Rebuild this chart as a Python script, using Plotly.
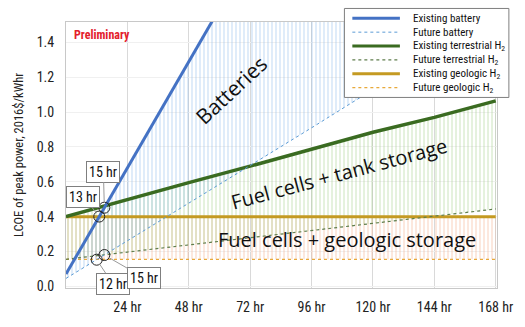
import numpy as np
import plotly.graph_objects as go

# Storage duration (hours) at which each cost curve is sampled
hours = [0, 24, 48, 72, 96, 120, 144, 168]
hours_batt = [0, 24, 48, 72]

# Levelized cost of peak power, 2016$/kWhr
existing_battery = [0.07, 0.68, 1.29, 1.90]
future_battery = [0.045, 0.26, 0.48, 0.69, 0.91, 1.13, 1.34, 1.56]
existing_terrestrial = [0.40, 0.50, 0.595, 0.69, 0.79, 0.885, 0.97, 1.065]
future_terrestrial = [0.155, 0.196, 0.238, 0.279, 0.32, 0.361, 0.403, 0.444]
existing_geologic = [0.40, 0.40, 0.40, 0.40, 0.40, 0.40, 0.40, 0.40]
future_geologic = [0.155, 0.155, 0.155, 0.155, 0.155, 0.155, 0.155, 0.155]

x_ticks = [24, 48, 72, 96, 120, 144, 168]
x_tick_text = ["24 hr", "48 hr", "72 hr", "96 hr", "120 hr", "144 hr", "168 hr"]
y_ticks = [0.0, 0.2, 0.4, 0.6, 0.8, 1.0, 1.2, 1.4]

# Break-even durations where battery curves cross the hydrogen curves
crossings = [
    ("13 hr", 13, hours_batt, existing_battery, -16, -20),
    ("15 hr", 15, hours_batt, existing_battery, -1, -36),
    ("12 hr", 12, hours, future_battery, 16, 24),
    ("15 hr", 15, hours, future_battery, 40, 23),
]

COND = ("Noto Sans Condensed, Roboto Condensed, Liberation Sans Narrow, "
        "DejaVu Sans Condensed, Roboto, sans-serif")
BODY = "Open Sans, Noto Sans, sans-serif"

W, H = 525, 327
ML, MR, MT, MB = 66, 24, 22, 30
PW, PH = W - ML - MR, H - MT - MB


def px_x(px):
    return (px - ML) / PW


def px_y(py):
    return (H - MB - py) / PH


fig = go.Figure()


def band(xs_up, up, xs_lo, lo, color):
    fig.add_trace(go.Scatter(
        x=list(xs_up) + list(xs_lo)[::-1],
        y=list(up) + list(lo)[::-1],
        fill="toself", mode="none", hoverinfo="skip", showlegend=False,
        fillcolor="rgba(0,0,0,0)",
        fillpattern=dict(shape="|", fgcolor=color, bgcolor="rgba(0,0,0,0)",
                         size=4, solidity=0.45),
    ))


# Hatched cost bands between existing and future technology
band(hours, existing_geologic, hours, future_geologic, "rgba(242,160,120,0.55)")
band(hours, existing_terrestrial, hours, future_terrestrial, "rgba(150,200,120,0.55)")
band(hours_batt, existing_battery, hours, future_battery, "rgba(140,185,235,0.6)")

lines = [
    ("Existing battery", hours_batt, existing_battery, "#4472c4", 3, "solid"),
    ("Future battery", hours, future_battery, "#5b9bd5", 1, "dot"),
    ("Existing terrestrial H<sub>2</sub>", hours, existing_terrestrial, "#3a6b21", 3.5, "solid"),
    ("Future terrestrial H<sub>2</sub>", hours, future_terrestrial, "#5f7d4c", 1.2, "dot"),
    ("Existing geologic H<sub>2</sub>", hours, existing_geologic, "#c49a22", 3, "solid"),
    ("Future geologic H<sub>2</sub>", hours, future_geologic, "#e8a93a", 1.2, "dot"),
]
draw_order = [4, 5, 2, 3, 1, 0]
for i in draw_order:
    name, xs, ys, color, width, dash = lines[i]
    fig.add_trace(go.Scatter(
        x=xs, y=ys, mode="lines", name=name, showlegend=False,
        line=dict(color=color, width=width, dash=dash),
    ))

# Circles and callouts at the crossings
cx = [c[1] for c in crossings]
cy = [float(np.interp(c[1], c[2], c[3])) for c in crossings]
fig.add_trace(go.Scatter(
    x=cx, y=cy, mode="markers", showlegend=False, hoverinfo="skip",
    marker=dict(size=11, color="rgba(0,0,0,0)", line=dict(color="#222", width=1)),
))
for (label, hx, _, _, ax, ay), yv in zip(crossings, cy):
    fig.add_annotation(
        x=hx, y=yv, text=label, showarrow=True, arrowhead=0, arrowwidth=1,
        arrowcolor="#999", ax=ax, ay=ay, standoff=5,
        bgcolor="white", bordercolor="#7f7f7f", borderwidth=1, borderpad=2,
        font=dict(family=COND, size=14, color="#111"),
    )

# Legend box with a line sample and label for each series
LX0, LX1, LY0, LY1 = 347, 513, 8, 100
fig.add_shape(type="rect", xref="paper", yref="paper", layer="above",
              x0=px_x(LX0), x1=px_x(LX1), y0=px_y(LY1), y1=px_y(LY0),
              fillcolor="white", line=dict(color="#7f7f7f", width=1))
row_h = (LY1 - LY0 - 6) / len(lines)
for k, (name, _, _, color, width, dash) in enumerate(lines):
    yc = LY0 + 3 + row_h * (k + 0.5)
    fig.add_shape(type="line", xref="paper", yref="paper", layer="above",
                  x0=px_x(355), x1=px_x(403), y0=px_y(yc), y1=px_y(yc),
                  line=dict(color=color, width=min(width, 3), dash=dash))
    fig.add_annotation(x=px_x(414), y=px_y(yc), xref="paper", yref="paper",
                       xanchor="left", yanchor="middle", text=name, showarrow=False,
                       font=dict(family=COND, size=11, color="#111"))

# Region labels
fig.add_annotation(x=64.5, y=1.13, text="Batteries", showarrow=False, textangle=-43,
                   font=dict(family=BODY, size=21, color="#111"))
fig.add_annotation(x=107, y=0.645, text="Fuel cells + tank storage", showarrow=False,
                   textangle=-15, font=dict(family=BODY, size=20, color="#111"))
fig.add_annotation(x=110, y=0.27, text="Fuel cells + geologic storage", showarrow=False,
                   font=dict(family=BODY, size=20, color="#111"))
fig.add_annotation(x=0.015, y=0.985, xref="paper", yref="paper", xanchor="left",
                   yanchor="top", text="<b>Preliminary</b>", showarrow=False,
                   font=dict(family=COND, size=12, color="#e3202b"))

fig.update_layout(
    width=W, height=H,
    margin=dict(l=ML, r=MR, t=MT, b=MB),
    paper_bgcolor="white", plot_bgcolor="white",
    showlegend=False,
    xaxis=dict(
        range=[0, 168.5], tickvals=x_ticks, ticktext=x_tick_text,
        showgrid=True, gridcolor="#d9d9d9", gridwidth=1,
        showline=True, linecolor="#c8c8c8", mirror=True, zeroline=False,
        ticks="", ticklabelstandoff=6,
        tickfont=dict(family=COND, size=14, color="#222"),
    ),
    yaxis=dict(
        range=[-0.01, 1.518], tickvals=y_ticks, tickformat=".1f",
        showgrid=True, gridcolor="#f0f0f0", gridwidth=1,
        showline=True, linecolor="#c8c8c8", mirror=True, zeroline=False,
        ticks="", ticklabelstandoff=8,
        tickfont=dict(family=COND, size=14, color="#222"),
        title=dict(text="LCOE of peak power, 2016$/kWhr", standoff=10,
                   font=dict(family=COND, size=12.5, color="#222")),
    ),
)

fig.write_html("out.html")
